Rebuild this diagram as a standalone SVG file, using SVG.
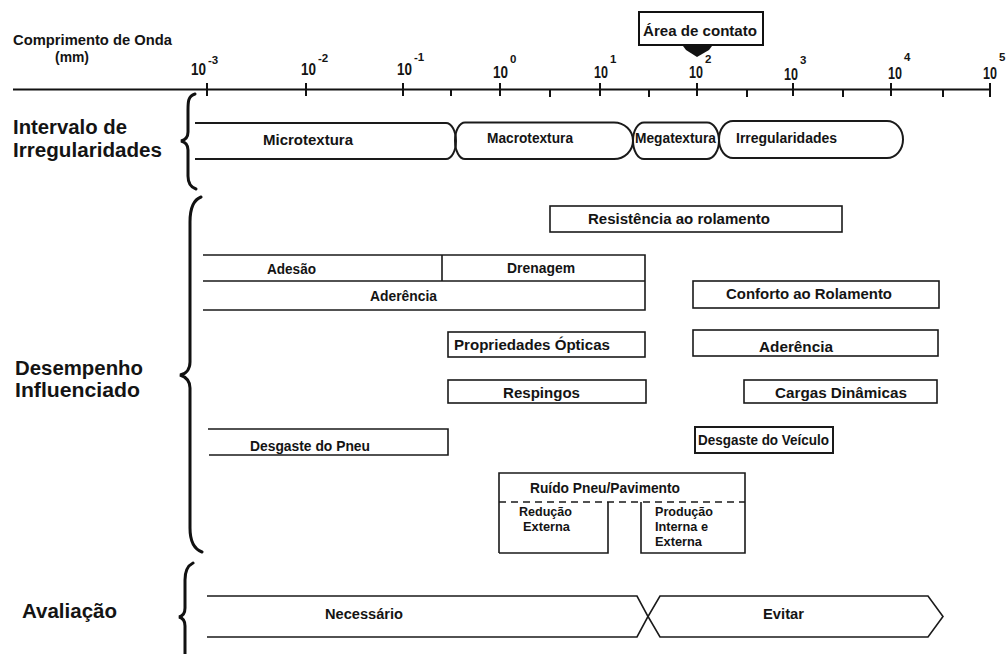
<svg xmlns="http://www.w3.org/2000/svg" width="1006" height="654" viewBox="0 0 1006 654">
  <style>
    text { font-family: "Liberation Sans", Arial, sans-serif; font-weight: bold; fill: #141414; }
    .lbl { font-size: 19.5px; }
    .box { font-size: 14.5px; }
    .sm { font-size: 13px; }
    .ax { font-size: 15px; }
    .num { font-size: 17px; }
    .sup { font-size: 11.5px; }
    .ln { fill: none; stroke: #1a1a1a; stroke-width: 1.6; }
    .pill { fill: none; stroke: #1a1a1a; stroke-width: 2; }
    .brace { fill: none; stroke: #111; stroke-width: 3; stroke-linecap: round; }
    .tick { stroke: #111; stroke-width: 2; }
    .dash { fill: none; stroke: #1a1a1a; stroke-width: 1.5; stroke-dasharray: 7 5; }
  </style>
  <rect width="1006" height="654" fill="#ffffff"/>

  <!-- wavelength axis -->
  <g id="axis">
    <text class="ax" x="13" y="45" textLength="159" lengthAdjust="spacingAndGlyphs">Comprimento de Onda</text>
    <text class="ax" x="55" y="62" textLength="34" lengthAdjust="spacingAndGlyphs">(mm)</text>
    <line x1="13" y1="89.5" x2="990" y2="89.5" stroke="#111" stroke-width="2"/>
    <g class="tick">
      <line x1="207" y1="83" x2="207" y2="96"/>
      <line x1="306" y1="83" x2="306" y2="96"/>
      <line x1="403" y1="83" x2="403" y2="96"/>
      <line x1="500" y1="83" x2="500" y2="96"/>
      <line x1="600" y1="83" x2="600" y2="96"/>
      <line x1="697" y1="83" x2="697" y2="96"/>
      <line x1="793" y1="83" x2="793" y2="96"/>
      <line x1="891" y1="83" x2="891" y2="96"/>
      <line x1="990" y1="83" x2="990" y2="97"/>
      <line x1="451" y1="90" x2="451" y2="96"/>
      <line x1="550" y1="90" x2="550" y2="97"/>
      <line x1="649" y1="90" x2="649" y2="97"/>
      <line x1="747" y1="90" x2="747" y2="97"/>
      <line x1="843" y1="90" x2="843" y2="97"/>
      <line x1="943" y1="90" x2="943" y2="97"/>
    </g>
    <!-- powers of ten: base and exponent -->
    <text class="num" x="191" y="75" textLength="15" lengthAdjust="spacingAndGlyphs">10</text>
    <text class="sup" x="208" y="64">-3</text>
    <text class="num" x="301" y="75" textLength="15" lengthAdjust="spacingAndGlyphs">10</text>
    <text class="sup" x="318" y="62">-2</text>
    <text class="num" x="397" y="75" textLength="15" lengthAdjust="spacingAndGlyphs">10</text>
    <text class="sup" x="414" y="61">-1</text>
    <text class="num" x="493" y="78" textLength="15" lengthAdjust="spacingAndGlyphs">10</text>
    <text class="sup" x="510" y="63">0</text>
    <text class="num" x="594" y="78" textLength="14" lengthAdjust="spacingAndGlyphs">10</text>
    <text class="sup" x="610" y="63">1</text>
    <text class="num" x="689" y="78" textLength="14" lengthAdjust="spacingAndGlyphs">10</text>
    <text class="sup" x="705" y="63">2</text>
    <text class="num" x="784" y="80" textLength="14" lengthAdjust="spacingAndGlyphs">10</text>
    <text class="sup" x="800" y="64">3</text>
    <text class="num" x="888" y="79" textLength="14" lengthAdjust="spacingAndGlyphs">10</text>
    <text class="sup" x="904" y="61">4</text>
    <text class="num" x="983" y="79" textLength="14" lengthAdjust="spacingAndGlyphs">10</text>
    <text class="sup" x="999" y="61">5</text>
  </g>

  <g id="area-contato">
    <rect x="639" y="12" width="124" height="33" fill="#fff" stroke="#111" stroke-width="2"/>
    <text class="ax" x="643" y="36" textLength="114" lengthAdjust="spacingAndGlyphs">Área de contato</text>
  </g>

  <g id="connectors">
    <polygon points="683,46 712,46 709,50 697,57 686,50" fill="#111"/>
  </g>

  <!-- row labels and braces -->
  <g id="label-intervalo">
    <text class="lbl" x="13" y="134" textLength="114" lengthAdjust="spacingAndGlyphs">Intervalo de</text>
    <text class="lbl" x="13" y="157" textLength="149" lengthAdjust="spacingAndGlyphs">Irregularidades</text>
    <path class="brace" d="M195,94 C188,96 188,102 188,110 L188,132 C188,137 185,140 181,141 C185,142 188,145 188,150 L188,176 C188,183 190,187 196,189"/>
  </g>
  <g id="label-desempenho">
    <text class="lbl" x="15" y="375" textLength="128" lengthAdjust="spacingAndGlyphs">Desempenho</text>
    <text class="lbl" x="15" y="397" textLength="125" lengthAdjust="spacingAndGlyphs">Influenciado</text>
    <path class="brace" d="M201,197 C193,200 190,208 190,222 L190,362 C190,369 186,374 180,375 C186,377 190,381 190,388 L190,528 C190,542 194,549 202,552"/>
  </g>
  <g id="label-avaliacao">
    <text class="lbl" x="22" y="618" textLength="95" lengthAdjust="spacingAndGlyphs">Avaliação</text>
    <path class="brace" d="M193,563 C187,566 185,572 185,580 L185,608 C185,613 183,616 179,617 C183,618 185,621 185,626 L185,654"/>
  </g>

  <!-- irregularity ranges -->
  <g id="microtextura">
    <path class="pill" d="M195,123 H446 A10,18 0 0 1 446,159 H195"/>
    <text class="box" x="263" y="145" textLength="90" lengthAdjust="spacingAndGlyphs">Microtextura</text>
  </g>
  <g id="macrotextura">
    <path class="pill" d="M465,122.5 H614 A19,18.25 0 0 1 614,159 H465 A10,18.25 0 0 1 465,122.5 Z"/>
    <text class="box" x="487" y="143" textLength="86" lengthAdjust="spacingAndGlyphs">Macrotextura</text>
  </g>
  <g id="megatextura">
    <path class="pill" d="M644,122.5 H707 A12,18.25 0 0 1 707,159 H644 A11,18.25 0 0 1 644,122.5 Z"/>
    <text class="box" x="635" y="143" textLength="81" lengthAdjust="spacingAndGlyphs">Megatextura</text>
  </g>
  <g id="irregularidades">
    <path class="pill" d="M733,121 H887 A16,18.5 0 0 1 887,158 H733 A14,18.5 0 0 1 733,121 Z"/>
    <text class="box" x="736" y="143" textLength="101" lengthAdjust="spacingAndGlyphs">Irregularidades</text>
  </g>

  <!-- influenced performance -->
  <g id="resistencia">
    <rect class="ln" x="550" y="206" width="292" height="26"/>
    <text class="box" x="588" y="224" textLength="182" lengthAdjust="spacingAndGlyphs">Resistência ao rolamento</text>
  </g>
  <g id="adesao-drenagem-aderencia">
    <path class="ln" d="M203,255 H645 V310 H203 M203,281 H645 M442,255 V281"/>
    <text class="box" x="267" y="274" textLength="49" lengthAdjust="spacingAndGlyphs">Adesão</text>
    <text class="box" x="507" y="273" textLength="68" lengthAdjust="spacingAndGlyphs">Drenagem</text>
    <text class="box" x="370" y="301" textLength="67" lengthAdjust="spacingAndGlyphs">Aderência</text>
  </g>
  <g id="conforto">
    <rect class="ln" x="693" y="281" width="246" height="27"/>
    <text class="box" x="726" y="299" textLength="166" lengthAdjust="spacingAndGlyphs">Conforto ao Rolamento</text>
  </g>
  <g id="propriedades-opticas">
    <rect class="ln" x="448" y="332" width="197" height="25"/>
    <text class="box" x="454" y="350" textLength="156" lengthAdjust="spacingAndGlyphs">Propriedades Ópticas</text>
  </g>
  <g id="aderencia-direita">
    <rect class="ln" x="693" y="330" width="245" height="26"/>
    <text class="box" x="759" y="352" textLength="74" lengthAdjust="spacingAndGlyphs">Aderência</text>
  </g>
  <g id="respingos">
    <rect class="ln" x="448" y="380" width="198" height="23"/>
    <text class="box" x="503" y="398" textLength="77" lengthAdjust="spacingAndGlyphs">Respingos</text>
  </g>
  <g id="cargas-dinamicas">
    <rect class="ln" x="744" y="380" width="193" height="23"/>
    <text class="box" x="775" y="398" textLength="132" lengthAdjust="spacingAndGlyphs">Cargas Dinâmicas</text>
  </g>
  <g id="desgaste-pneu">
    <path class="ln" d="M208,429 H448 V455 H209"/>
    <text class="box" x="250" y="451" textLength="120" lengthAdjust="spacingAndGlyphs">Desgaste do Pneu</text>
  </g>
  <g id="desgaste-veiculo">
    <rect x="695" y="427" width="138" height="26" fill="none" stroke="#1a1a1a" stroke-width="2"/>
    <text class="box" x="698" y="445" textLength="131" lengthAdjust="spacingAndGlyphs">Desgaste do Veículo</text>
  </g>
  <g id="ruido">
    <path class="ln" d="M499,553 V473 H745 V553 H641 V502 M499,553 H608 V502"/>
    <line class="dash" x1="499" y1="502" x2="745" y2="502"/>
    <text class="box" x="530" y="493" textLength="150" lengthAdjust="spacingAndGlyphs">Ruído Pneu/Pavimento</text>
    <text class="sm" x="519" y="516" textLength="53" lengthAdjust="spacingAndGlyphs">Redução</text>
    <text class="sm" x="523" y="531" textLength="47" lengthAdjust="spacingAndGlyphs">Externa</text>
    <text class="sm" x="655" y="516" textLength="58" lengthAdjust="spacingAndGlyphs">Produção</text>
    <text class="sm" x="655" y="531" textLength="53" lengthAdjust="spacingAndGlyphs">Interna e</text>
    <text class="sm" x="655" y="546" textLength="47" lengthAdjust="spacingAndGlyphs">Externa</text>
  </g>

  <!-- evaluation -->
  <g id="necessario">
    <path class="ln" d="M207,596 H637 L648,616.5 L637,637 H207"/>
    <text class="box" x="325" y="619" textLength="78" lengthAdjust="spacingAndGlyphs">Necessário</text>
  </g>
  <g id="evitar">
    <path class="ln" d="M660,596 H928 L943,616.5 L928,637 H660 L648,616.5 Z"/>
    <text class="box" x="763" y="619" textLength="41" lengthAdjust="spacingAndGlyphs">Evitar</text>
  </g>
</svg>
